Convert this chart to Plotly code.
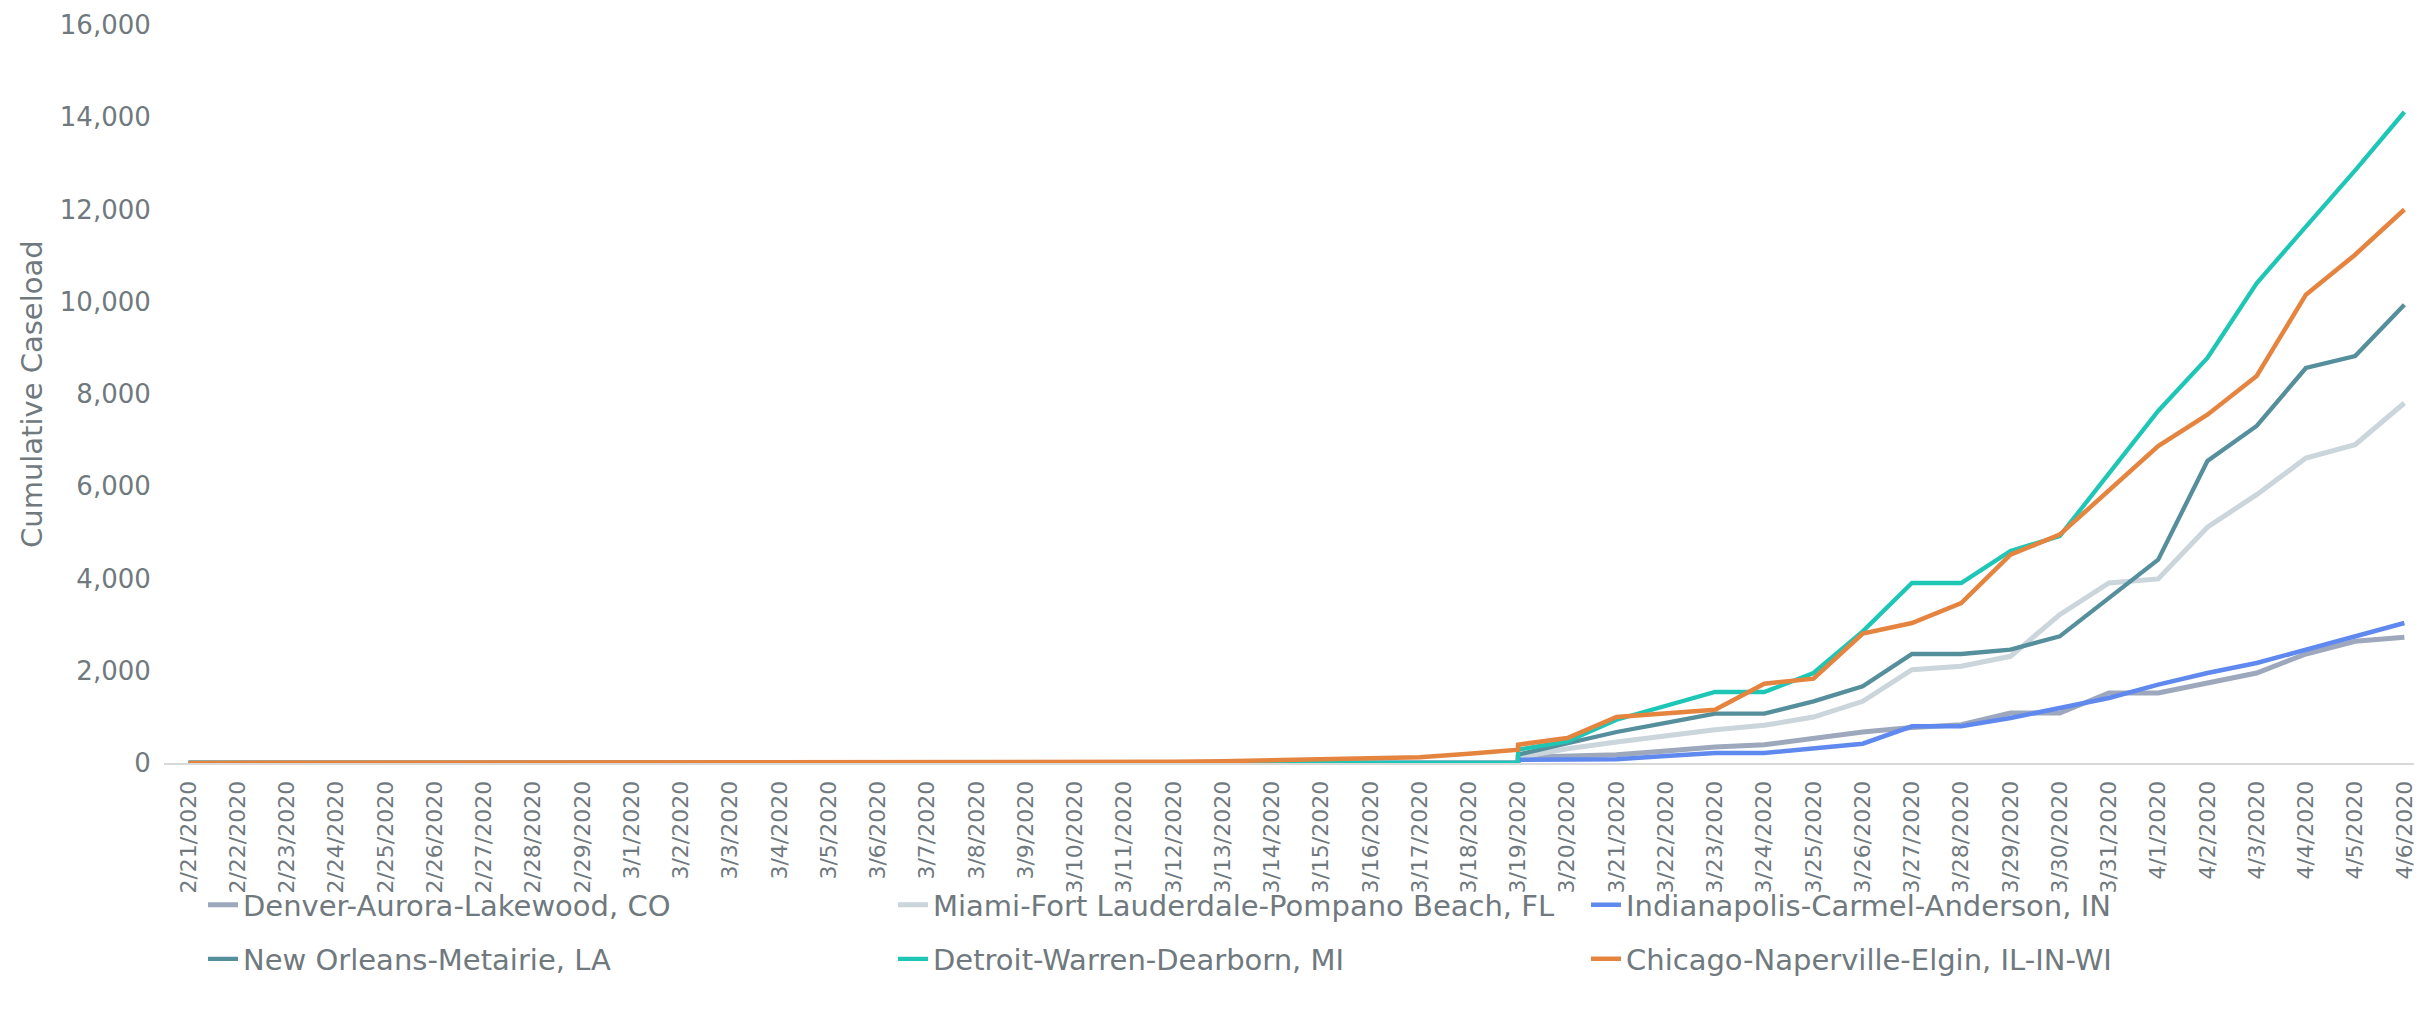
import plotly.graph_objects as go

# Category labels (x axis)
dates = [
    "2/21/2020", "2/22/2020", "2/23/2020", "2/24/2020", "2/25/2020", "2/26/2020",
    "2/27/2020", "2/28/2020", "2/29/2020", "3/1/2020", "3/2/2020", "3/3/2020",
    "3/4/2020", "3/5/2020", "3/6/2020", "3/7/2020", "3/8/2020", "3/9/2020",
    "3/10/2020", "3/11/2020", "3/12/2020", "3/13/2020", "3/14/2020", "3/15/2020",
    "3/16/2020", "3/17/2020", "3/18/2020", "3/19/2020", "3/20/2020", "3/21/2020",
    "3/22/2020", "3/23/2020", "3/24/2020", "3/25/2020", "3/26/2020", "3/27/2020",
    "3/28/2020", "3/29/2020", "3/30/2020", "3/31/2020", "4/1/2020", "4/2/2020",
    "4/3/2020", "4/4/2020", "4/5/2020", "4/6/2020",
]
# early segment: 2/21 .. 3/19 ; late segment: 3/19 .. 4/6 (3/19 appears in both)
early_dates = dates[:28]
late_dates = dates[27:]

names = [
    "Denver-Aurora-Lakewood, CO",
    "Miami-Fort Lauderdale-Pompano Beach, FL",
    "Indianapolis-Carmel-Anderson, IN",
    "New Orleans-Metairie, LA",
    "Detroit-Warren-Dearborn, MI",
    "Chicago-Naperville-Elgin, IL-IN-WI",
]

denver_early = [0, 0, 0, 0, 0, 0, 0, 0, 0, 0, 0, 0, 0, 0, 0, 0, 0, 0, 0, 0, 0, 0, 0, 0, 0, 0, 0, 0]
denver_late = [123, 160, 181, 260, 347, 397, 528, 672, 770, 830, 1084, 1084, 1518, 1518, 1734, 1951, 2363, 2638, 2725]

miami_early = [0, 0, 0, 0, 0, 0, 0, 0, 0, 0, 0, 0, 0, 0, 0, 0, 0, 0, 0, 0, 0, 0, 0, 0, 0, 0, 0, 0]
miami_late = [120, 310, 455, 590, 723, 817, 997, 1337, 2023, 2096, 2313, 3215, 3902, 3990, 5113, 5817, 6612, 6901, 7805]

indy_early = [0, 0, 0, 0, 0, 0, 0, 0, 0, 0, 0, 0, 0, 0, 0, 0, 0, 0, 0, 0, 0, 0, 0, 0, 0, 0, 0, 0]
indy_late = [72, 80, 80, 150, 217, 217, 311, 419, 795, 795, 976, 1192, 1409, 1698, 1951, 2168, 2457, 2746, 3035]

nola_early = [0, 0, 0, 0, 0, 0, 0, 0, 0, 0, 0, 0, 0, 0, 0, 0, 0, 0, 0, 0, 0, 0, 0, 0, 0, 0, 0, 0]
nola_late = [181, 434, 672, 870, 1069, 1069, 1337, 1662, 2363, 2363, 2457, 2746, 3580, 4408, 6547, 7306, 8564, 8822, 9936]

detroit_early = [0, 0, 0, 0, 0, 0, 0, 0, 0, 0, 0, 0, 0, 0, 0, 0, 0, 0, 0, 0, 0, 0, 0, 0, 0, 0, 0, 0]
detroit_late = [289, 470, 939, 1240, 1539, 1539, 1951, 2855, 3902, 3902, 4596, 4921, 6270, 7631, 8780, 10400, 11627, 12850, 14114]

chicago_early = [2, 2, 2, 2, 2, 2, 2, 2, 3, 3, 3, 4, 4, 5, 5, 6, 7, 8, 12, 20, 26, 40, 58, 85, 100, 125, 200, 289]
chicago_late = [397, 542, 997, 1075, 1156, 1720, 1828, 2804, 3035, 3469, 4516, 4950, 5910, 6870, 7550, 8390, 10153, 11020, 12000]

y_ticks = [0, 2000, 4000, 6000, 8000, 10000, 12000, 14000, 16000]
y_title = "Cumulative Caseload"

series_early = [denver_early, miami_early, indy_early, nola_early, detroit_early, chicago_early]
series_late = [denver_late, miami_late, indy_late, nola_late, detroit_late, chicago_late]
colors = ["#9DA8BD", "#CAD5DC", "#5F89EE", "#568F9C", "#1EC6B6", "#E5843F"]
widths = [5, 5, 4.5, 4.3, 4.3, 4.5]

W, H = 2422, 1022
ML, MR, MT, MB = 156, 1, 17, 267
PLOT_W = W - ML - MR

TEXT_COLOR = "#6F797E"
FONT = "DejaVu Sans, Verdana, sans-serif"
YTICK_FONT = dict(family=FONT, size=26, color=TEXT_COLOR)
XTICK_FONT = dict(family=FONT, size=22, color=TEXT_COLOR)
LEG_FONT = dict(family=FONT, size=29, color=TEXT_COLOR)

# legend text starts (px) per column, row centers (px)
col_text_px = [243, 933, 1626]
row_px = [897, 951]

fig = go.Figure()
legend_names = ["legend", "legend2", "legend3", "legend4", "legend5", "legend6"]
for i, name in enumerate(names):
    fig.add_trace(go.Scatter(
        x=early_dates + late_dates,
        y=series_early[i] + series_late[i],
        mode="lines",
        name=name,
        line=dict(color=colors[i], width=widths[i]),
        legend=legend_names[i],
        hovertemplate="%{x}: %{y:,}<extra>" + name + "</extra>",
    ))

layout_legends = {}
for i in range(6):
    col = i % 3
    row = i // 3
    layout_legends[legend_names[i]] = dict(
        xref="container", yref="container",
        x=(col_text_px[col] - 48) / W,
        y=1 - row_px[row] / H,
        xanchor="left", yanchor="middle",
        orientation="v",
        font=LEG_FONT,
        bgcolor="rgba(0,0,0,0)",
        borderwidth=0,
    )

fig.update_layout(
    width=W, height=H,
    margin=dict(l=ML, r=MR, t=MT, b=MB, autoexpand=False),
    paper_bgcolor="white",
    plot_bgcolor="white",
    showlegend=True,
    annotations=[dict(
        text=y_title, textangle=-90,
        xref="paper", yref="paper",
        x=(24 - ML) / PLOT_W, y=0.5,
        xanchor="center", yanchor="middle",
        showarrow=False,
        font=dict(family=FONT, size=29, color=TEXT_COLOR),
    )],
    **layout_legends,
)

fig.update_xaxes(
    type="category",
    categoryorder="array",
    categoryarray=dates,
    range=[-0.5, len(dates) - 0.5],
    tickangle=-90,
    tickfont=XTICK_FONT,
    ticks="outside", ticklen=7, tickcolor="rgba(0,0,0,0)",
    showgrid=False,
    showline=True, linecolor="#D9D9D9", linewidth=2,
    zeroline=False,
    layer="below traces",
    automargin=False,
)
fig.update_yaxes(
    range=[0, 16000],
    tickvals=y_ticks,
    tickformat=",",
    tickfont=YTICK_FONT,
    ticks="outside", ticklen=7, tickcolor="rgba(0,0,0,0)",
    showgrid=False,
    zeroline=False,
    showline=False,
    automargin=False,
)

fig.write_html("out.html")
